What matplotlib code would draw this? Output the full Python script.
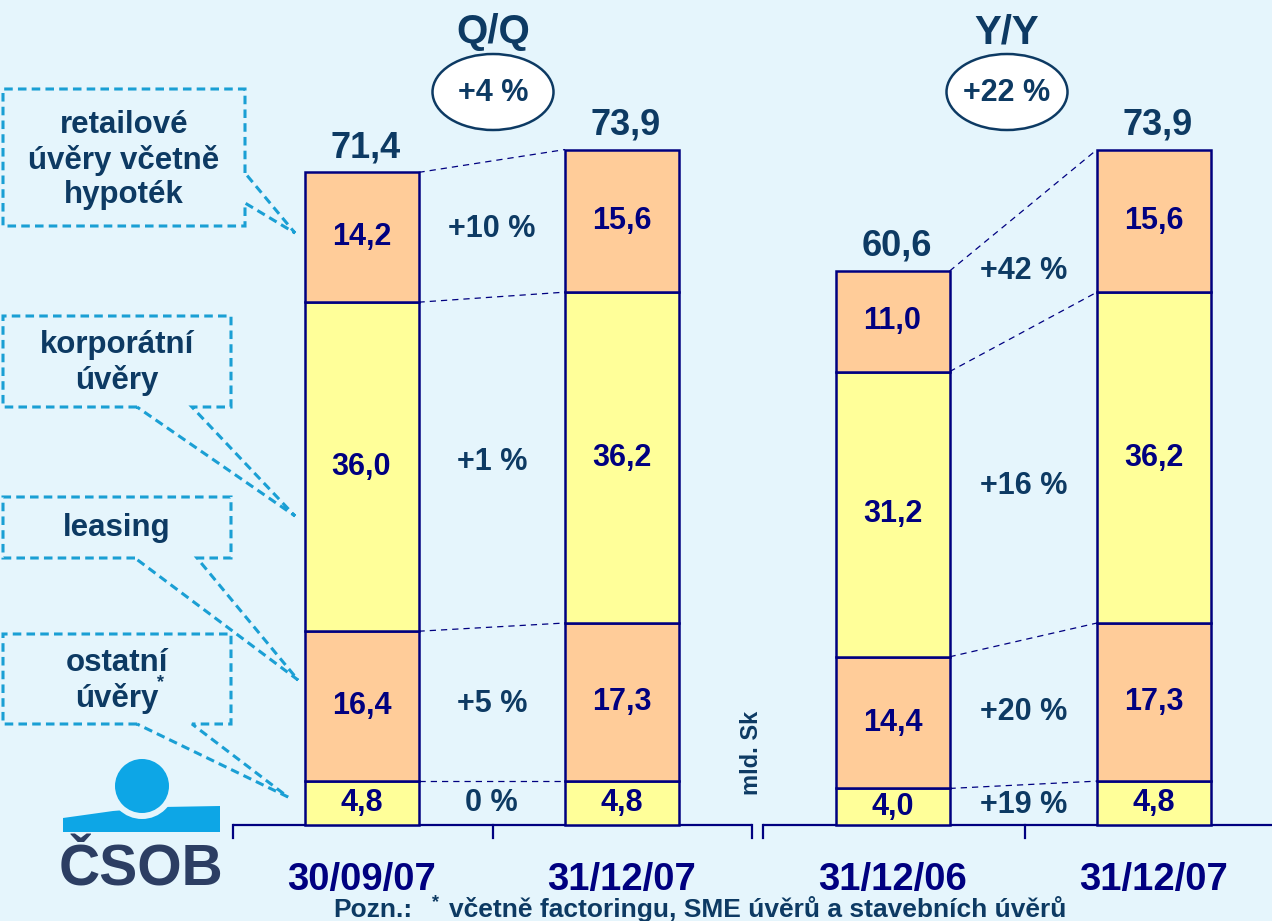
import numpy as np
import matplotlib
matplotlib.use('Agg')
import matplotlib.pyplot as plt
from matplotlib.patches import Ellipse, Circle, Polygon
from matplotlib import font_manager

plt.rcParams['font.family'] = ['Liberation Sans', 'DejaVu Sans']
plt.rcParams['font.weight'] = 'bold'

# ---- data (mld. Sk) ----
dates = ['30/09/07', '31/12/07', '31/12/06', '31/12/07']
ostatni = [4.8, 4.8, 4.0, 4.8]
leasing = [16.4, 17.3, 14.4, 17.3]
korporatni = [36.0, 36.2, 31.2, 36.2]
retail = [14.2, 15.6, 11.0, 15.6]
qq_changes = ['0 %', '+5 %', '+1 %', '+10 %']      # bottom -> top
yy_changes = ['+19 %', '+20 %', '+16 %', '+42 %']
qq_total = '+4 %'
yy_total = '+22 %'
box_labels = ['retailové\núvěry včetně\nhypoték', 'korporátní\núvěry',
              'leasing', 'ostatní\núvěry']
footnote = 'včetně factoringu, SME úvěrů a stavebních úvěrů'

# ---- layout ----
W, H = 1272, 921
bg = '#E5F5FC'
navy = '#000080'
slate = '#0D3A63'
cyan = '#1A9FD4'
yellow = '#FFFF99'
orange = '#FFCC99'
bar_x = [361.5, 622, 892.5, 1154]
bar_w = 114
base_py = 825
ppu = 9.14  # pixels per mld. Sk

fig = plt.figure(figsize=(W / 100, H / 100), dpi=100, facecolor=bg)

ov = fig.add_axes([0, 0, 1, 1], facecolor='none')
ov.set_xlim(0, W)
ov.set_ylim(H, 0)
ov.axis('off')

ax = fig.add_axes([0, 0, 1, 1], facecolor='none')
ax.set_xlim(0, W)
ax.set_ylim(-(H - base_py) / ppu, base_py / ppu)
ax.axis('off')

series = [ostatni, leasing, korporatni, retail]
colors = [yellow, orange, yellow, orange]
stack = np.array(series)            # rows: segments, cols: bars
tops = np.cumsum(stack, axis=0)
bottoms = tops - stack

def fmt(v):
    return f'{v:.1f}'.replace('.', ',')

for k in range(len(series)):
    ax.bar(bar_x, stack[k], bottom=bottoms[k], width=bar_w, color=colors[k],
           edgecolor=navy, linewidth=1.8, zorder=2)
    for i in range(len(bar_x)):
        ax.text(bar_x[i], bottoms[k, i] + stack[k, i] / 2, fmt(stack[k, i]),
                ha='center', va='center', fontsize=22, color=navy, zorder=3)

for i in range(len(bar_x)):
    ax.annotate(fmt(tops[-1, i]), (bar_x[i] + 4, tops[-1, i]), xytext=(0, 11),
                textcoords='offset points', ha='center', va='baseline',
                fontsize=26, color=slate)

# connectors + change labels
for (a, b), changes in [((0, 1), qq_changes), ((2, 3), yy_changes)]:
    xa = bar_x[a] + bar_w / 2
    xb = bar_x[b] - bar_w / 2
    for k in range(len(series)):
        ax.plot([xa, xb], [tops[k, a], tops[k, b]], color=navy, lw=0.9,
                ls=(0, (5, 4)), zorder=1)
        ym = ((bottoms[k, a] + tops[k, a]) / 2 + (bottoms[k, b] + tops[k, b]) / 2) / 2
        ax.text((xa + xb) / 2, ym, changes[k], ha='center', va='center',
                fontsize=22, color=slate)

# category axis
for x0, x1, ticks in [(233, 752, [233, 492.5, 752]), (763, W + 5, [763, 1025])]:
    ov.plot([x0, x1], [base_py, base_py], color=navy, lw=1.6, solid_capstyle='butt')
    for t in ticks:
        ov.plot([t, t], [base_py, base_py + 13], color=navy, lw=1.6)
for x, d in zip(bar_x, dates):
    ov.text(x, 880, d, ha='center', va='center', fontsize=27.5, color=navy)

# headers
for cx, title, total in [(493, 'Q/Q', qq_total), (1007, 'Y/Y', yy_total)]:
    ov.text(cx, 32, title, ha='center', va='center', fontsize=29, color=slate)
    ov.add_patch(Ellipse((cx, 92), 121, 76, fc='white', ec=slate, lw=1.8))
    ov.text(cx, 93, total, ha='center', va='center', fontsize=22, color=slate)

# callout boxes
def callout(x0, y0, x1, y1, side, wa, wb, tip):
    if side == 'right':
        pts = [(x1, wa), (x1, y0), (x0, y0), (x0, y1), (x1, y1), (x1, wb), tip]
    else:
        pts = [(wa, y1), (x0, y1), (x0, y0), (x1, y0), (x1, y1), (wb, y1), tip]
    ov.add_patch(Polygon(pts, closed=True, fill=False, ec=cyan, lw=2.2,
                         ls=(0, (2.8, 1.7))))

callout(3, 89, 245, 226, 'right', 173, 203, (295, 233))
callout(3, 316, 231, 407, 'bottom', 137, 192, (295, 516))
callout(3, 497, 231, 558, 'bottom', 135, 197, (298, 680))
callout(3, 634, 231, 724, 'bottom', 137, 192, (288, 797))

for (cx, cy), lab in zip([(124, 160), (117, 363), (117, 528), (117, 681)], box_labels):
    ov.text(cx, cy, lab, ha='center', va='center', fontsize=22.5,
            color=slate, linespacing=1.2)
ov.text(157, 683, '*', ha='left', va='center', fontsize=13, color=slate)

# units
ov.text(752, 753, 'mld. Sk', rotation=90, ha='center', va='center',
        fontsize=17, color=slate)

# logo
logo_blue = '#0DA6E6'
ov.add_patch(Polygon([(63, 818), (113, 811), (163, 807), (220, 806),
                      (220, 832), (63, 832)], closed=True, fc=logo_blue, ec='none'))
ov.add_patch(Circle((142, 786), 33, fc=bg, ec='none'))
ov.add_patch(Circle((142, 786), 27, fc=logo_blue, ec='none'))
ov.text(141, 885, 'ČSOB', ha='center', va='baseline', fontsize=41,
        color='#2C3E63', fontweight='heavy')

# footnote
names = {f.name for f in font_manager.fontManager.ttflist}
fam = ['Liberation Sans Narrow', 'Liberation Sans'] if 'Liberation Sans Narrow' in names \
    else ['Liberation Sans']
ov.text(333, 917, 'Pozn.:', ha='left', va='baseline', fontsize=19,
        color=slate, family=fam)
ov.text(432, 907, '*', ha='left', va='baseline', fontsize=13, color=slate, family=fam)
ft = ov.text(449, 917, footnote, ha='left', va='baseline', fontsize=19,
             color=slate, family=fam)
fig.canvas.draw()
bb = ft.get_window_extent()
ft.set_fontsize(19 * (1066 - 449) / bb.width)

fig.savefig('out.png', dpi=100, facecolor=bg)
